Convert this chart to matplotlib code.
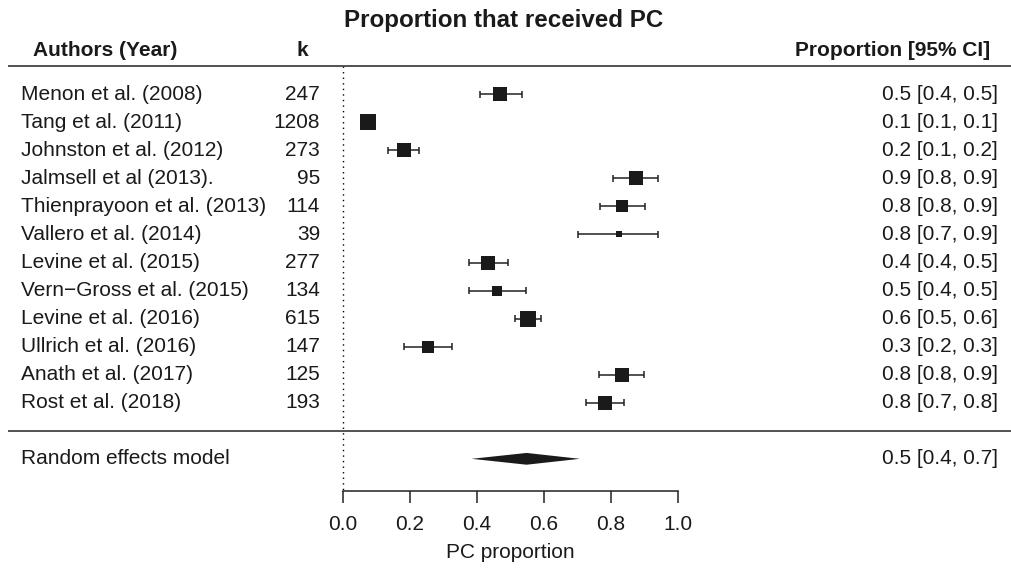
import numpy as np
import matplotlib
matplotlib.use("Agg")
from matplotlib import pyplot as plt
from matplotlib.patches import Polygon

plt.rcParams['font.family'] = ['Liberation Sans', 'DejaVu Sans']

# study data
authors = ["Menon et al. (2008)", "Tang et al. (2011)", "Johnston et al. (2012)",
           "Jalmsell et al (2013).", "Thienprayoon et al. (2013)", "Vallero et al. (2014)",
           "Levine et al. (2015)", "Vern\u2212Gross et al. (2015)", "Levine et al. (2016)",
           "Ullrich et al. (2016)", "Anath et al. (2017)", "Rost et al. (2018)"]
k = [247, 1208, 273, 95, 114, 39, 277, 134, 615, 147, 125, 193]
prop = [0.469, 0.074, 0.181, 0.876, 0.834, 0.823, 0.434, 0.461, 0.552, 0.254, 0.832, 0.781]
ci_lo = [0.408, 0.061, 0.135, 0.806, 0.767, 0.700, 0.376, 0.376, 0.514, 0.182, 0.763, 0.724]
ci_hi = [0.534, 0.089, 0.227, 0.941, 0.900, 0.941, 0.492, 0.546, 0.590, 0.325, 0.898, 0.839]
weights = [8.4, 9.1, 8.4, 8.4, 8.1, 6.3, 8.4, 7.5, 9.0, 8.1, 8.4, 8.4]

# random effects summary
re_est, re_lo, re_hi = 0.548, 0.384, 0.707

xticks = [0.0, 0.2, 0.4, 0.6, 0.8, 1.0]

fs = 15
txtcol = '#1a1a1a'
fig = plt.figure(figsize=(10.12, 5.70), dpi=100)
ax = fig.add_axes([0, 0, 1, 1])
ax.set_xlim(-1.024, 1.997)
ax.set_ylim(17.965, -2.363)

rows = np.arange(1, len(authors) + 1)

# marker size from weight (px -> pt)
w = np.array(weights)
size_px = 6 + (w - w.min()) / (w.max() - w.min()) * 9.5
ax.hlines(rows, ci_lo, ci_hi, color='#222222', lw=1.1, zorder=2)
ax.vlines(ci_lo, rows - 0.13, rows + 0.13, color='#222222', lw=1.1, zorder=2)
ax.vlines(ci_hi, rows - 0.13, rows + 0.13, color='#222222', lw=1.1, zorder=2)
for r, p, s in zip(rows, prop, size_px):
    ax.plot(p, r, marker='s', ms=s * 0.72, color='#1a1a1a', mec='#1a1a1a', mew=0, zorder=3)

# summary diamond
re_row = 14
h = 0.21
ax.add_patch(Polygon([(re_lo, re_row), (re_est, re_row - h), (re_hi, re_row), (re_est, re_row + h)],
                     closed=True, color='#1a1a1a', lw=0))

# reference line at 0
ax.vlines(0, 0, 15.15, color='black', lw=1, linestyles=(0, (1, 3)))

# separator lines
ax.hlines([0, 13], -1.0, 1.997, color='#444444', lw=1.3)

# text columns
for r, a, n, p, lo, hi in zip(rows, authors, k, prop, ci_lo, ci_hi):
    ax.text(-0.962, r, a, ha='left', va='center', fontsize=fs, color=txtcol)
    ax.text(-0.068, r, str(n), ha='right', va='center', fontsize=fs, color=txtcol)
    ax.text(1.955, r, f"{p:.1f} [{lo:.1f}, {hi:.1f}]", ha='right', va='center', fontsize=fs, color=txtcol)
ax.text(-0.962, re_row, "Random effects model", ha='left', va='center', fontsize=fs, color=txtcol)
ax.text(1.955, re_row, f"{re_est:.1f} [{re_lo:.1f}, {re_hi:.1f}]", ha='right', va='center',
        fontsize=fs, color=txtcol)

# headers
ax.text(-0.925, -0.56, "Authors (Year)", ha='left', va='center', fontsize=fs, fontweight='bold', color=txtcol)
ax.text(-0.123, -0.56, "k", ha='center', va='center', fontsize=fs, fontweight='bold', color=txtcol)
ax.text(1.931, -0.56, "Proportion [95% CI]", ha='right', va='center', fontsize=fs, fontweight='bold',
        color=txtcol)
ax.text(0.48, -1.62, "Proportion that received PC", ha='center', va='center', fontsize=17.4,
        fontweight='bold', color=txtcol)

# x axis drawn only over 0..1
for side in ['top', 'right', 'left']:
    ax.spines[side].set_visible(False)
ax.spines['bottom'].set_position(('data', 15.15))
ax.spines['bottom'].set_bounds(0, 1)
ax.spines['bottom'].set_linewidth(1.1)
ax.spines['bottom'].set_color('#222222')
ax.set_xticks(xticks)
ax.set_xticklabels([f"{t:.1f}" for t in xticks])
ax.tick_params(axis='x', direction='out', length=8.5, width=1.1, pad=8.5, labelsize=fs,
               color='#222222', labelcolor=txtcol)
ax.set_yticks([])
ax.text(0.5, 17.33, "PC proportion", ha='center', va='center', fontsize=fs, color=txtcol)

plt.savefig('out.png', dpi=100)
